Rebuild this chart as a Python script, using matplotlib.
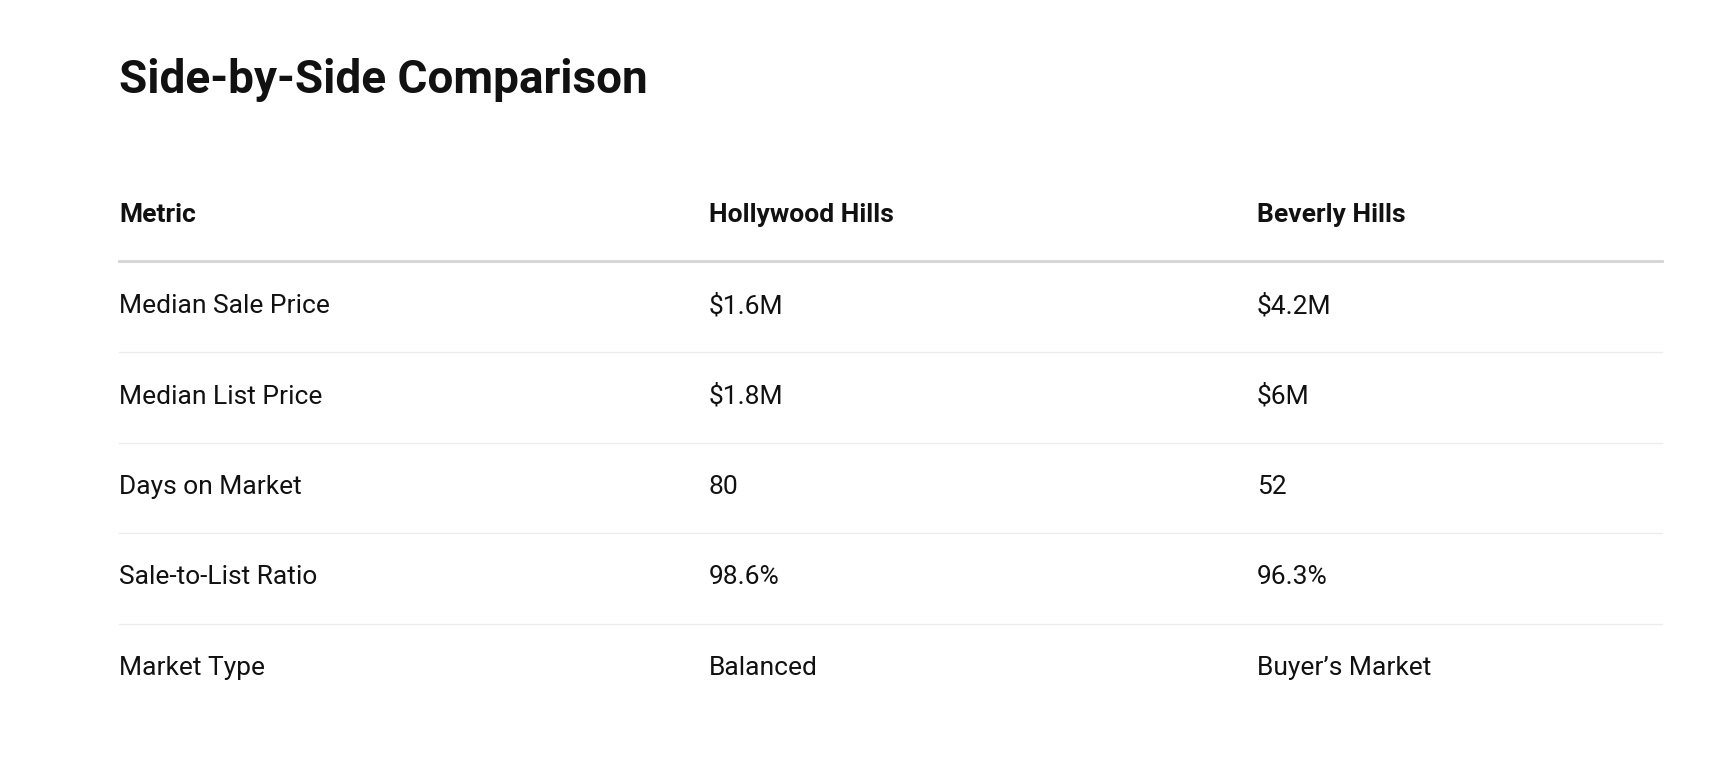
import matplotlib.pyplot as plt

title = "Side-by-Side Comparison"
headers = ["Metric", "Hollywood Hills", "Beverly Hills"]
metrics = ["Median Sale Price", "Median List Price", "Days on Market",
           "Sale-to-List Ratio", "Market Type"]
hollywood = ["$1.6M", "$1.8M", "80", "98.6%", "Balanced"]
beverly = ["$4.2M", "$6M", "52", "96.3%", "Buyer\u2019s Market"]

plt.rcParams['font.family'] = 'Roboto'
fig = plt.figure(figsize=(17.29, 7.77), dpi=100)
ax = fig.add_axes([0, 0, 1, 1])
ax.set_xlim(0, 1729)
ax.set_ylim(777, 0)
ax.axis('off')

col_x = [119, 709, 1257]
x_end = 1662
ink = '#111111'

ax.text(col_x[0], 80, title, fontsize=33, fontweight='bold', color=ink, va='center')

for x, h in zip(col_x, headers):
    ax.text(x, 215, h, fontsize=19, fontweight='bold', color=ink, va='center')
ax.plot([col_x[0], x_end], [261, 261], color='#d4d4d4', lw=2)

row_h = 90.5
for i, row in enumerate(zip(metrics, hollywood, beverly)):
    y = 306 + i * row_h
    for x, val in zip(col_x, row):
        ax.text(x, y, val, fontsize=19, color=ink, va='center')
    if i < len(metrics) - 1:
        ax.plot([col_x[0], x_end], [y + 46, y + 46], color='#ececec', lw=1)

fig.savefig('out.png', dpi=100)
